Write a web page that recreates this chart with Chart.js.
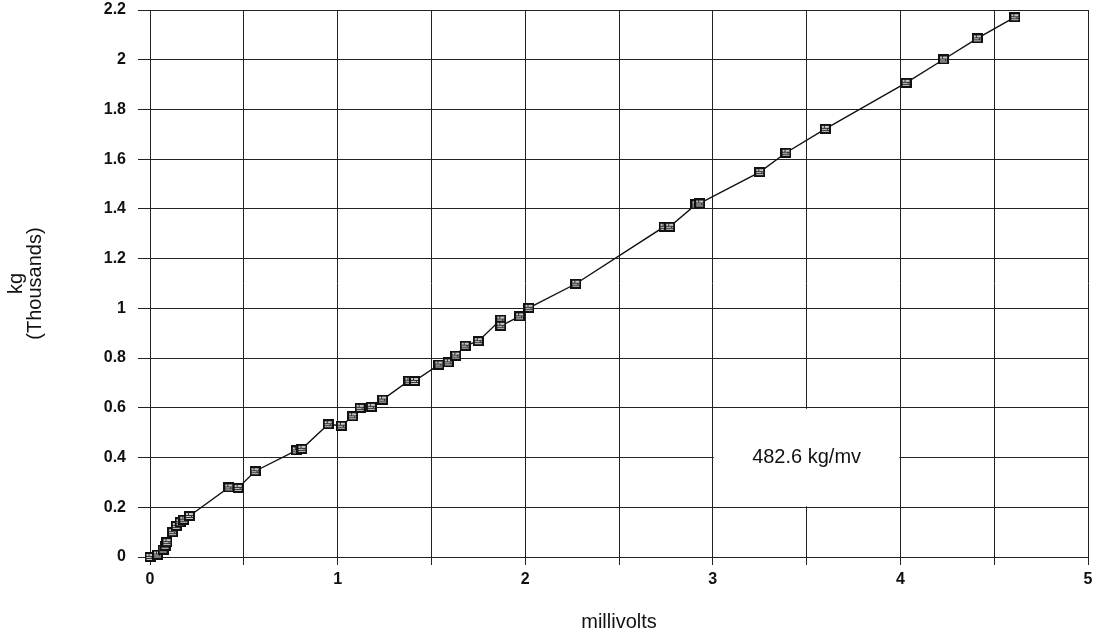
<!DOCTYPE html>
<html>
<head>
<meta charset="utf-8">
<script src="https://cdn.jsdelivr.net/npm/chart.js@4.4.1/dist/chart.umd.min.js"></script>
<style>
  html, body { margin: 0; padding: 0; background: #fff; }
  #calib { display: block; }
</style>
</head>
<body>
<canvas id="calib" width="1100" height="640"></canvas>
<script>
// Calibration readings: bridge output (mV) against applied load (thousands of kg)
const millivolts = [
    0, 0.04, 0.07, 0.08, 0.09, 0.12, 0.14, 0.16, 0.18, 0.21,
    0.42, 0.47, 0.56, 0.78, 0.81, 0.95, 1.02, 1.08, 1.12, 1.18,
    1.24, 1.38, 1.41, 1.54, 1.59, 1.63, 1.68, 1.75, 1.87, 1.87,
    1.97, 2.02, 2.27, 2.74, 2.77, 2.91, 2.93, 3.25, 3.39, 3.60,
    4.03, 4.23, 4.41, 4.61
];
const kgThousands = [
    0, 0.01, 0.03, 0.045, 0.06, 0.10, 0.125, 0.14, 0.15, 0.165,
    0.28, 0.278, 0.345, 0.429, 0.435, 0.534, 0.528, 0.566, 0.60, 0.604,
    0.633, 0.709, 0.708, 0.774, 0.783, 0.81, 0.85, 0.868, 0.955, 0.93,
    0.968, 1.002, 1.099, 1.328, 1.328, 1.418, 1.422, 1.548, 1.626, 1.722,
    1.907, 2.001, 2.086, 2.171
];
const slopeLabel = '482.6 kg/mv';

const FONT = '"Liberation Sans", Arial, sans-serif';

// small hatched square used as the point marker
function makeMarker() {
    const c = document.createElement('canvas');
    c.width = 11; c.height = 10;
    const g = c.getContext('2d');
    g.fillStyle = '#111';
    g.fillRect(0, 0, 11, 10);
    g.fillStyle = '#c8c8c8';
    g.fillRect(2, 2, 7, 6);
    g.fillStyle = '#333';
    g.fillRect(2, 4, 7, 1);
    g.fillRect(2, 6, 7, 1);
    g.fillRect(4, 2, 1, 2);
    g.fillRect(7, 5, 1, 1);
    return c;
}

// white box with the slope text, sitting between x 3..4 and y 0.2..0.6
const slopeBox = {
    id: 'slopeBox',
    beforeDatasetsDraw(chart) {
        const { ctx, scales: { x, y } } = chart;
        const l = x.getPixelForValue(3), r = x.getPixelForValue(4);
        const t = y.getPixelForValue(0.6), b = y.getPixelForValue(0.2);
        ctx.save();
        ctx.fillStyle = '#fff';
        ctx.fillRect(l + 1, t + 1, r - l - 2, b - t - 2);
        ctx.fillStyle = '#111';
        ctx.font = '20px ' + FONT;
        ctx.textAlign = 'center';
        ctx.textBaseline = 'middle';
        ctx.fillText(slopeLabel, x.getPixelForValue(3.5), y.getPixelForValue(0.4));
        ctx.restore();
    }
};

const points = millivolts.map((v, i) => ({ x: v, y: kgThousands[i] }));

new Chart(document.getElementById('calib'), {
    type: 'scatter',
    data: {
        datasets: [{
            data: points,
            showLine: true,
            clip: false,
            borderColor: '#111',
            borderWidth: 1.4,
            pointStyle: makeMarker(),
            pointRadius: 5,
            pointHoverRadius: 5
        }]
    },
    options: {
        responsive: false,
        animation: false,
        layout: { padding: { top: 0, right: 12, left: 0, bottom: 0 } },
        plugins: {
            legend: { display: false },
            tooltip: { enabled: false }
        },
        scales: {
            x: {
                type: 'linear',
                min: 0,
                max: 5,
                afterFit: s => { s.height = 83; },
                ticks: {
                    stepSize: 0.5,
                    padding: 5,
                    color: '#111',
                    font: { family: FONT, size: 16, weight: 'bold' },
                    callback: v => Number.isInteger(v) ? String(v) : ''
                },
                grid: { color: '#222', lineWidth: 1, tickLength: 8 },
                border: { color: '#222', width: 1 },
                title: {
                    display: true,
                    text: 'millivolts',
                    color: '#111',
                    font: { family: FONT, size: 20 },
                    padding: { top: 0, bottom: 6 }
                }
            },
            y: {
                min: 0,
                max: 2.2,
                afterFit: s => {
                    s.width = 150;
                    // keep the top gridline close to the canvas edge
                    s.paddingTop = 10;
                    s.paddingBottom = 0;
                },
                ticks: {
                    stepSize: 0.2,
                    padding: 12,
                    color: '#111',
                    font: { family: FONT, size: 16, weight: 'bold' },
                    callback: v => String(Math.round(v * 10) / 10)
                },
                grid: { color: '#222', lineWidth: 1, tickLength: 12 },
                border: { color: '#222', width: 1 },
                title: {
                    display: true,
                    text: ['kg', '(Thousands)'],
                    color: '#111',
                    font: { family: FONT, size: 20, lineHeight: 0.95 },
                    padding: { top: 7, bottom: 0 }
                }
            }
        }
    },
    plugins: [slopeBox]
});
</script>
</body>
</html>
